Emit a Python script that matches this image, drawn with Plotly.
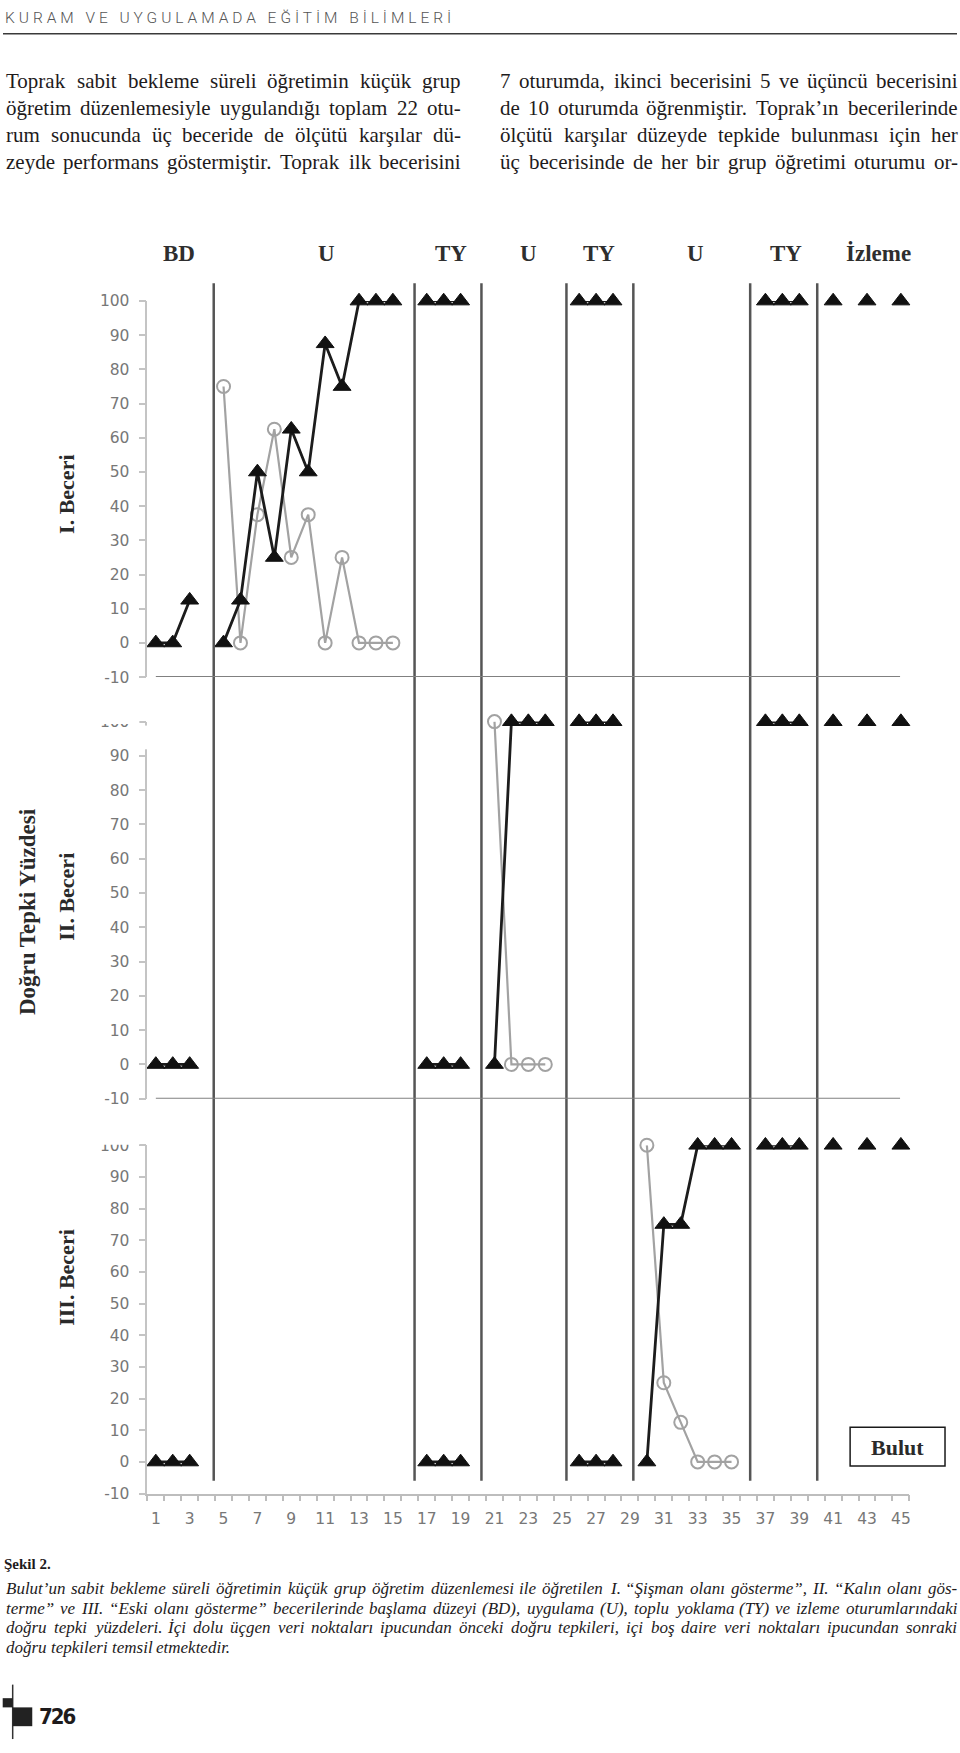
import plotly.graph_objects as go

W, H = 960, 1753
N = None

# ---------------- data ----------------
SESSIONS = list(range(1, 46))

# Skill I  (filled triangles = correct before prompt, open circles = correct after prompt)
S1_BEFORE = [0, 0, 12.5, N, 0, 12.5, 50, 25, 62.5, 50,
             87.5, 75, 100, 100, 100, N, 100, 100, 100, N,
             N, N, N, N, N, 100, 100, 100, N, N,
             N, N, N, N, N, N, 100, 100, 100, N,
             100, N, 100, N, 100]
S1_AFTER = [N, N, N, N, 75, 0, 37.5, 62.5, 25, 37.5,
            0, 25, 0, 0, 0, N, N, N, N, N,
            N, N, N, N, N, N, N, N, N, N,
            N, N, N, N, N, N, N, N, N, N,
            N, N, N, N, N]
# Skill II
S2_BEFORE = [0, 0, 0, N, N, N, N, N, N, N,
             N, N, N, N, N, N, 0, 0, 0, N,
             0, 100, 100, 100, N, 100, 100, 100, N, N,
             N, N, N, N, N, N, 100, 100, 100, N,
             100, N, 100, N, 100]
S2_AFTER = [N, N, N, N, N, N, N, N, N, N,
            N, N, N, N, N, N, N, N, N, N,
            100, 0, 0, 0, N, N, N, N, N, N,
            N, N, N, N, N, N, N, N, N, N,
            N, N, N, N, N]
# Skill III
S3_BEFORE = [0, 0, 0, N, N, N, N, N, N, N,
             N, N, N, N, N, N, 0, 0, 0, N,
             N, N, N, N, N, 0, 0, 0, N, 0,
             75, 75, 100, 100, 100, N, 100, 100, 100, N,
             100, N, 100, N, 100]
S3_AFTER = [N, N, N, N, N, N, N, N, N, N,
            N, N, N, N, N, N, N, N, N, N,
            N, N, N, N, N, N, N, N, N, 100,
            25, 12.5, 0, 0, 0, N, N, N, N, N,
            N, N, N, N, N]

PHASE_BREAKS = [4.42, 16.28, 20.23, 25.25, 29.2, 36.1, 40.06]
PHASE_NAMES = ["BD", "U", "TY", "U", "TY", "U", "TY", "İzleme"]
PHASE_LABEL_AT = [2.36, 11.1, 18.46, 22.98, 27.2, 32.9, 38.2, 43.7]
Y_TICKS = [-10, 0, 10, 20, 30, 40, 50, 60, 70, 80, 90, 100]
Y_TICKTEXT = ["-10", "0", "10", "20", "30", "40", "50", "60", "70", "80", "90", "100"]
X_LABELS = [1, 3, 5, 7, 9, 11, 13, 15, 17, 19, 21, 23, 25, 27, 29, 31, 33, 35,
            37, 39, 41, 43, 45]
SKILL_TITLES = ["I. Beceri", "II. Beceri", "III. Beceri"]
Y_TITLE = "Doğru Tepki Yüzdesi"
LEGEND_NAME = "Bulut"

HEADER = "KURAM VE UYGULAMADA EĞİTİM BİLİMLERİ"
LEFT_LINES = [
    "Toprak sabit bekleme süreli öğretimin küçük grup",
    "öğretim düzenlemesiyle uygulandığı toplam 22 otu-",
    "rum sonucunda üç beceride de ölçütü karşılar dü-",
    "zeyde performans göstermiştir. Toprak ilk becerisini",
]
RIGHT_LINES = [
    "7 oturumda, ikinci becerisini 5 ve üçüncü becerisini",
    "de 10 oturumda öğrenmiştir. Toprak’ın becerilerinde",
    "ölçütü karşılar düzeyde tepkide bulunması için her",
    "üç becerisinde de her bir grup öğretimi oturumu or-",
]
FIG_LABEL = "Şekil 2."
CAPTION_LINES = [
    "Bulut’un sabit bekleme süreli öğretimin küçük grup öğretim düzenlemesi ile öğretilen I. “Şişman olanı gösterme”, II. “Kalın olanı gös-",
    "terme” ve III. “Eski olanı gösterme” becerilerinde başlama düzeyi (BD), uygulama (U), toplu yoklama (TY) ve izleme oturumlarındaki",
    "doğru tepki yüzdeleri. İçi dolu üçgen veri noktaları ipucundan önceki doğru tepkileri, içi boş daire veri noktaları ipucundan sonraki",
    "doğru tepkileri temsil etmektedir.",
]
PAGE_NO = "726"

# ---------------- text metrics (Times/Liberation Serif, per 1000 em) ----------------
REG = {' ': 250, ',': 250, '.': 250, '-': 333, '’': 333, '“': 444, '”': 444, '(': 333, ')': 333,
       'a': 444, 'b': 500, 'c': 444, 'd': 500, 'e': 444, 'f': 333, 'g': 500, 'h': 500, 'i': 278,
       'j': 278, 'k': 500, 'l': 278, 'm': 778, 'n': 500, 'o': 500, 'p': 500, 'q': 500, 'r': 333,
       's': 389, 't': 278, 'u': 500, 'v': 500, 'w': 722, 'x': 500, 'y': 500, 'z': 444,
       'ç': 444, 'ğ': 500, 'ı': 278, 'ö': 500, 'ş': 389, 'ü': 500,
       'A': 722, 'B': 667, 'C': 667, 'D': 722, 'E': 611, 'F': 556, 'G': 722, 'H': 722, 'I': 333,
       'İ': 333, 'K': 722, 'L': 611, 'M': 889, 'N': 722, 'O': 722, 'P': 556, 'R': 667, 'S': 556,
       'Ş': 556, 'T': 611, 'U': 722, 'Y': 722, 'Z': 611}
ITA = {' ': 250, ',': 250, '.': 250, '-': 333, '’': 333, '“': 556, '”': 556, '(': 333, ')': 333,
       'a': 500, 'b': 500, 'c': 444, 'd': 500, 'e': 444, 'f': 278, 'g': 500, 'h': 500, 'i': 278,
       'j': 278, 'k': 444, 'l': 278, 'm': 722, 'n': 500, 'o': 500, 'p': 500, 'q': 500, 'r': 389,
       's': 389, 't': 278, 'u': 500, 'v': 444, 'w': 667, 'x': 444, 'y': 444, 'z': 389,
       'ç': 444, 'ğ': 500, 'ı': 278, 'ö': 500, 'ş': 389, 'ü': 500,
       'A': 611, 'B': 611, 'C': 667, 'D': 722, 'E': 611, 'F': 611, 'G': 722, 'H': 722, 'I': 333,
       'İ': 333, 'K': 667, 'L': 556, 'M': 833, 'N': 667, 'O': 722, 'P': 611, 'R': 611, 'S': 500,
       'Ş': 500, 'T': 556, 'U': 722, 'Y': 556, 'Z': 556}


def px(x):
    return x / W


def py(y):
    return 1 - y / H


def tw(s, table, size):
    return sum(table.get(ch, 500) for ch in s) / 1000.0 * size


annotations = []
shapes = []


def text_at(text, x, y, size, family="Liberation Serif", color="#1e1b1c",
            xanchor="left", angle=0):
    annotations.append(dict(text=text, x=px(x), y=py(y), xref="paper", yref="paper",
                            xanchor=xanchor, yanchor="middle", showarrow=False,
                            borderpad=0, textangle=angle,
                            font=dict(family=family, size=size, color=color)))


def justified(line, x0, x1, y, size, table, italic=False, justify=True):
    words = line.split(" ")
    widths = [tw(w, table, size) for w in words]
    if justify and len(words) > 1:
        gap = (x1 - x0 - sum(widths)) / (len(words) - 1)
        gap = max(gap, 0.2 * size)
    else:
        gap = table[' '] / 1000.0 * size
    x = x0
    for w, wd in zip(words, widths):
        t = "<i>" + w + "</i>" if italic else w
        text_at(t, x, y, size)
        x += wd + gap


# ---------------- figure ----------------
fig = go.Figure()

TIERS = [(295, 675), (720, 1101), (1148, 1500)]  # pixel y of 100 and -10 per tier
series = [(S1_BEFORE, S1_AFTER, "y"), (S2_BEFORE, S2_AFTER, "y2"), (S3_BEFORE, S3_AFTER, "y3")]
for before, after, ya in series:
    fig.add_trace(go.Scatter(
        x=SESSIONS, y=after, xaxis="x", yaxis=ya, mode="lines+markers",
        line=dict(color="#a2a2a2", width=2.2),
        marker=dict(symbol="circle-open", size=13, color="#a2a2a2", line=dict(width=2)),
        cliponaxis=False, connectgaps=False, showlegend=False, hoverinfo="skip"))
    fig.add_trace(go.Scatter(
        x=SESSIONS, y=before, xaxis="x", yaxis=ya, mode="lines+markers",
        line=dict(color="#1c1c1c", width=2.8),
        marker=dict(symbol="triangle-up", size=15.5, color="#111111",
                    line=dict(width=1, color="#111111")),
        cliponaxis=False, connectgaps=False, showlegend=False, hoverinfo="skip"))

tickfont = dict(family="DejaVu Sans", size=15.5, color="#777777")
layout = dict(
    width=W, height=H, margin=dict(l=0, r=0, t=0, b=0),
    paper_bgcolor="white", plot_bgcolor="rgba(0,0,0,0)", showlegend=False,
    xaxis=dict(domain=[px(147.5), px(910.3)], range=[0.5, 45.5], anchor="y3",
               showline=True, linecolor="#bdbdbd", linewidth=1.5, showgrid=False,
               zeroline=False, tickmode="array", tickvals=X_LABELS,
               ticktext=[str(v) for v in X_LABELS], ticks="outside", ticklen=0,
               tickfont=tickfont, ticklabelstandoff=10,
               minor=dict(tickmode="linear", tick0=0.5, dtick=1, ticks="outside",
                          ticklen=6, tickcolor="#bdbdbd", tickwidth=1.5, showgrid=False)),
)
for name, (ytop, ybot) in zip(["yaxis", "yaxis2", "yaxis3"], TIERS):
    layout[name] = dict(domain=[py(ybot), py(ytop)], range=[-10, 100], anchor="x",
                        showline=True, linecolor="#c4c4c4", linewidth=1.5,
                        ticks="outside", ticklen=7, tickcolor="#c4c4c4", tickwidth=1.5,
                        tickmode="array", tickvals=Y_TICKS, ticktext=Y_TICKTEXT,
                        showgrid=False, zeroline=False,
                        tickfont=tickfont, ticklabelstandoff=6)

# phase change lines
for b in PHASE_BREAKS:
    shapes.append(dict(type="line", xref="x", yref="paper", x0=b, x1=b,
                       y0=py(1487), y1=py(277), line=dict(color="#555555", width=2.5)))
# tier separators at -10 for tiers I and II
for ya in ["y", "y2"]:
    shapes.append(dict(type="line", xref="paper", yref=ya, x0=px(156), x1=px(901),
                       y0=-10, y1=-10, line=dict(color="#808080", width=2)))
# partially hidden "100" labels of tiers II and III (as in the pasted original)
shapes.append(dict(type="rect", xref="paper", yref="paper", x0=px(85), x1=px(139.5),
                   y0=py(722.5), y1=py(700), fillcolor="white", line=dict(width=0)))
shapes.append(dict(type="rect", xref="paper", yref="paper", x0=px(145), x1=px(150),
                   y0=py(748), y1=py(724), fillcolor="white", line=dict(width=0)))
shapes.append(dict(type="rect", xref="paper", yref="paper", x0=px(85), x1=px(139.5),
                   y0=py(1147.5), y1=py(1128), fillcolor="white", line=dict(width=0)))
# legend box
shapes.append(dict(type="rect", xref="paper", yref="paper", x0=px(851), x1=px(946),
                   y0=py(1472), y1=py(1433), fillcolor="white",
                   line=dict(color="#1a1a1a", width=1.5)))
# header rule
shapes.append(dict(type="line", xref="paper", yref="paper", x0=px(3), x1=px(958),
                   y0=py(25), y1=py(25), line=dict(color="#3a3a3a", width=1.5)))
# page-number ornament
shapes.append(dict(type="line", xref="paper", yref="paper", x0=px(12.7), x1=px(12.7),
                   y0=py(1748), y1=py(1693), line=dict(color="#333333", width=1.5)))
shapes.append(dict(type="rect", xref="paper", yref="paper", x0=px(2.7), x1=px(12.7),
                   y0=py(1716), y1=py(1706.7), fillcolor="#222222", line=dict(width=0)))
shapes.append(dict(type="rect", xref="paper", yref="paper", x0=px(12.7), x1=px(32.3),
                   y0=py(1735), y1=py(1716), fillcolor="#222222", line=dict(width=0)))

# phase labels
for name, at in zip(PHASE_NAMES, PHASE_LABEL_AT):
    annotations.append(dict(text="<b>" + name + "</b>", x=at, xref="x", y=py(247),
                            yref="paper", xanchor="center", yanchor="middle",
                            showarrow=False, font=dict(family="Liberation Serif", size=23,
                                                       color="#2e2e2e")))
# skill titles and y title
for title, yc in zip(SKILL_TITLES, [490, 897, 1281]):
    text_at("<b>" + title + "</b>", 67, yc, 22, color="#2a2a2a", xanchor="center", angle=-90)
text_at("<b>" + Y_TITLE + "</b>", 27, 911.5, 23, color="#2a2a2a", xanchor="center", angle=-90)
# legend text
text_at("<b>" + LEGEND_NAME + "</b>", 898.5, 1453, 22, color="#2a2a2a", xanchor="center")

# running header
annotations.append(dict(text='<span style="letter-spacing:3.95px">' + HEADER + '</span>',
                        x=px(4), y=py(9.5), xref="paper", yref="paper", xanchor="left",
                        yanchor="middle", showarrow=False, borderpad=0,
                        font=dict(family="Roboto", size=15.5, color="#555555", weight=300)))

# body text columns (justified)
for i, line in enumerate(LEFT_LINES):
    justified(line, 5, 460, 73 + i * 27.3, 21, REG)
for i, line in enumerate(RIGHT_LINES):
    justified(line, 500, 958, 73 + i * 27.3, 21, REG)

# caption
text_at("<b>" + FIG_LABEL + "</b>", 3, 1571, 15)
for i, line in enumerate(CAPTION_LINES):
    justified(line, 5, 957, 1596 + i * 19.7, 17, ITA, italic=True,
              justify=(i < len(CAPTION_LINES) - 1))

# page number
text_at('<b><span style="letter-spacing:-2px">' + PAGE_NO + '</span></b>', 38, 1725.5, 22,
        family="DejaVu Sans Condensed, Liberation Sans Narrow, DejaVu Sans")

layout["shapes"] = shapes
layout["annotations"] = annotations
fig.update_layout(**layout)

# the page is exactly the figure: drop the browser's default 8px body margin
NO_MARGIN = ("document.documentElement.style.margin='0';"
             "document.body.style.margin='0';"
             "document.body.style.padding='0';")
fig.write_html("out.html", post_script=NO_MARGIN)
